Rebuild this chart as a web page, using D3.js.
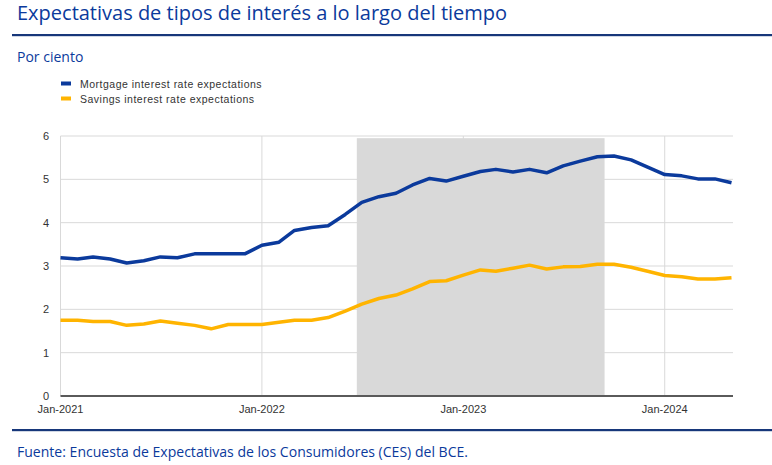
<!DOCTYPE html>
<html><head><meta charset="utf-8">
<script src="https://cdn.jsdelivr.net/npm/d3@7"></script>
<style>
html,body{margin:0;padding:0;background:#fff;}
svg{display:block;}
</style></head>
<body><svg id="c" width="772" height="465"></svg>
<script>
const months = ["2021-01","2021-02","2021-03","2021-04","2021-05","2021-06","2021-07","2021-08","2021-09","2021-10","2021-11","2021-12",
"2022-01","2022-02","2022-03","2022-04","2022-05","2022-06","2022-07","2022-08","2022-09","2022-10","2022-11","2022-12",
"2023-01","2023-02","2023-03","2023-04","2023-05","2023-06","2023-07","2023-08","2023-09","2023-10","2023-11","2023-12",
"2024-01","2024-02","2024-03","2024-04","2024-05"];
const mortgage = [3.19,3.16,3.21,3.16,3.07,3.12,3.21,3.19,3.28,3.28,3.28,3.28,
3.48,3.55,3.82,3.89,3.93,4.19,4.47,4.60,4.68,4.87,5.02,4.96,
5.07,5.18,5.23,5.17,5.23,5.15,5.31,5.42,5.52,5.54,5.45,5.28,
5.11,5.08,5.01,5.01,4.92];
const savings = [1.75,1.75,1.72,1.72,1.63,1.66,1.73,1.68,1.63,1.55,1.65,1.65,
1.65,1.70,1.75,1.75,1.81,1.96,2.12,2.25,2.33,2.47,2.64,2.66,
2.79,2.91,2.88,2.95,3.02,2.93,2.98,2.99,3.04,3.04,2.97,2.88,
2.78,2.75,2.70,2.70,2.73];
const seriesNames = ["Mortgage interest rate expectations","Savings interest rate expectations"];
const seriesColors = ["#0b3a9c","#ffb400"];
const yTicks = [0,1,2,3,4,5,6];
const xTickMonths = ["2021-01","2022-01","2023-01","2024-01"];
const xTickLabels = ["Jan-2021","Jan-2022","Jan-2023","Jan-2024"];
const shadeStart = "2022-06-22", shadeEnd = "2023-09-14", shadeTop = 5.95;

const parse = d3.timeParse("%Y-%m"), parseD = d3.timeParse("%Y-%m-%d");
const svg = d3.select("#c");
const blue = "#0b3a9c";

// Title
svg.append("text").attr("x",17).attr("y",20).attr("font-family","'Open Sans', sans-serif")
  .attr("font-size",20).attr("fill",blue).text("Expectativas de tipos de interés a lo largo del tiempo");
svg.append("rect").attr("x",12).attr("y",34).attr("width",760).attr("height",2.2).attr("fill","#17377a");
svg.append("text").attr("x",17).attr("y",62).attr("font-family","'Open Sans', sans-serif")
  .attr("font-size",14).attr("fill",blue).text("Por ciento");

// Legend
seriesNames.forEach((n,i)=>{
  const y = 84 + i*15;
  svg.append("rect").attr("x",61).attr("y",y-2.5).attr("width",10).attr("height",4).attr("fill",seriesColors[i]);
  svg.append("text").attr("x",80).attr("y",y+4).attr("font-family","Arial, 'Liberation Sans', sans-serif")
    .attr("font-size",10.5).attr("letter-spacing",0.5).attr("fill","#333").text(n);
});

const x = d3.scaleTime().domain([parse(months[0]), parse(months[months.length-1])]).range([60.5, 731.5]);
const y = d3.scaleLinear().domain([0,6]).range([396,136]);

const g = svg.append("g");
// horizontal grid
g.selectAll(".hg").data(yTicks.filter(d=>d>0)).join("line")
  .attr("x1",60.5).attr("x2",733).attr("y1",d=>y(d)).attr("y2",d=>y(d))
  .attr("stroke","#d9d9d9").attr("stroke-width",1);
// vertical grid
g.selectAll(".vg").data(xTickMonths).join("line")
  .attr("x1",d=>x(parse(d))).attr("x2",d=>x(parse(d))).attr("y1",y(6)).attr("y2",y(0))
  .attr("stroke","#d9d9d9").attr("stroke-width",1);
// shading
g.append("rect").attr("x",x(parseD(shadeStart))).attr("width",x(parseD(shadeEnd))-x(parseD(shadeStart)))
  .attr("y",y(shadeTop)).attr("height",y(0)-y(shadeTop)).attr("fill","#d9d9d9");

// x axis baseline
g.append("line").attr("x1",60.5).attr("x2",733).attr("y1",y(0)).attr("y2",y(0))
  .attr("stroke","#5a5a5a").attr("stroke-width",2);

// y tick labels
g.selectAll(".yl").data(yTicks).join("text")
  .attr("x",49).attr("y",d=>y(d)+4).attr("text-anchor","end")
  .attr("font-family","Arial, 'Liberation Sans', sans-serif").attr("font-size",11).attr("fill","#333").text(d=>d);
// x tick labels
g.selectAll(".xl").data(xTickMonths).join("text")
  .attr("x",d=>x(parse(d))).attr("y",413).attr("text-anchor","middle")
  .attr("font-family","Arial, 'Liberation Sans', sans-serif").attr("font-size",11).attr("fill","#333")
  .text((d,i)=>xTickLabels[i]);

// lines
const line = d3.line().x((d,i)=>x(parse(months[i]))).y(d=>y(d));
[mortgage, savings].forEach((s,i)=>{
  g.append("path").datum(s).attr("d",line).attr("fill","none")
    .attr("stroke",seriesColors[i]).attr("stroke-width",3.5).attr("stroke-linejoin","round");
});

// footer
svg.append("rect").attr("x",12).attr("y",429).attr("width",760).attr("height",2.2).attr("fill","#17377a");
svg.append("text").attr("x",17).attr("y",457).attr("font-family","'Open Sans', sans-serif")
  .attr("font-size",14.5).attr("textLength",451).attr("lengthAdjust","spacingAndGlyphs").attr("fill",blue)
  .text("Fuente: Encuesta de Expectativas de los Consumidores (CES) del BCE.");
</script></body></html>
